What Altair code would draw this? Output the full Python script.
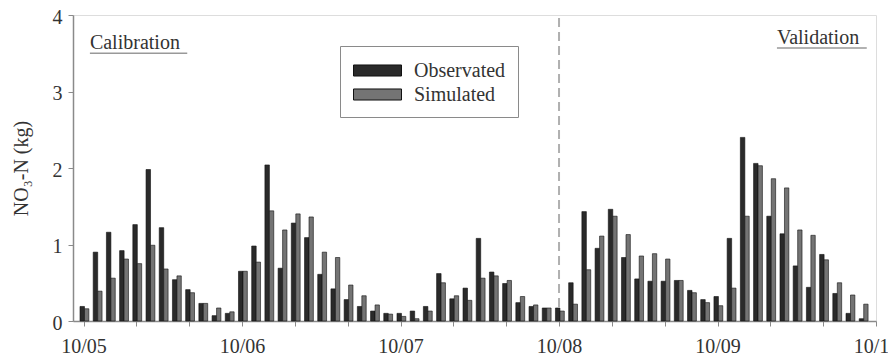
import json
import altair as alt
import pandas as pd

# ---- data -------------------------------------------------------------------
month_idx = list(range(60))  # 0 = Oct 2005 ... 59 = Sep 2010
observed = [0.19, 0.90, 1.16, 0.92, 1.26, 1.98, 1.22, 0.54, 0.41, 0.23, 0.07, 0.10,
            0.65, 0.98, 2.04, 0.69, 1.28, 1.09, 0.61, 0.42, 0.28, 0.19, 0.13, 0.10,
            0.10, 0.13, 0.19, 0.62, 0.29, 0.43, 1.08, 0.64, 0.49, 0.24, 0.19, 0.17,
            0.17, 0.50, 1.43, 0.95, 1.46, 0.83, 0.55, 0.52, 0.52, 0.53, 0.40, 0.28,
            0.32, 1.08, 2.40, 2.06, 1.37, 1.14, 0.72, 0.44, 0.87, 0.36, 0.10, 0.03]
simulated = [0.16, 0.39, 0.56, 0.81, 0.75, 0.99, 0.68, 0.59, 0.37, 0.23, 0.17, 0.12,
             0.65, 0.77, 1.44, 1.19, 1.40, 1.36, 0.90, 0.83, 0.47, 0.33, 0.21, 0.09,
             0.06, 0.03, 0.13, 0.50, 0.33, 0.27, 0.56, 0.59, 0.53, 0.32, 0.21, 0.17,
             0.13, 0.22, 0.67, 1.11, 1.37, 1.13, 0.85, 0.88, 0.81, 0.53, 0.37, 0.24,
             0.20, 0.43, 1.37, 2.03, 1.86, 1.74, 1.19, 1.12, 0.80, 0.50, 0.34, 0.22]
tick_labels = ["10/05", "4/06", "10/06", "4/07", "10/07", "4/08",
               "10/08", "4/09", "10/09", "4/10", "10/10"]
series_names = ["Observated", "Simulated"]
series_colors = ["#2a2a2a", "#747474"]

period_labels = ["Calibration", "Validation"]
period_x = [0.48, 52.5]
period_x_end = [7.85, 59.3]
period_y = [3.56, 3.62]
period_line_y = [3.50, 3.57]
split_month = [36]

# ---- tables --------------------------------------------------------------------
bars = pd.DataFrame({
    "m": month_idx * 2,
    "value": observed + simulated,
    "series": [series_names[0]] * 60 + [series_names[1]] * 60,
})
periods = pd.DataFrame({"label": period_labels, "x": period_x, "x2": period_x_end,
                        "y": period_y, "yl": period_line_y})
split = pd.DataFrame({"m": split_month})

FONT = "'Liberation Serif', 'Times New Roman', 'DejaVu Serif', serif"
GREY = "#8a8a8a"
TXT = "#333333"

xscale = alt.Scale(domain=[-0.8, 60], nice=False, zero=False)
yscale = alt.Scale(domain=[0, 4], nice=False)

label_expr = ("datum.value % 6 == 0 ? " + json.dumps(tick_labels).replace('"', "'")
              + "[datum.value / 6] : ''")

x_axis = alt.Axis(values=list(range(0, 61, 2)), labelExpr=label_expr, title=None,
                  grid=False, tickSize=5, tickColor=GREY, domainColor=GREY, domainWidth=1.5,
                  labelFont=FONT, labelFontSize=20, labelColor=TXT, labelPadding=10,
                  labelFlush=False, labelOverlap=False)
y_axis = alt.Axis(values=[0, 1, 2, 3, 4], format="d", title="NO₃-N (kg)", grid=False,
                  tickSize=5, tickColor=GREY, domainColor=GREY, domainWidth=1.5,
                  labelFont=FONT, labelFontSize=20, labelColor=TXT, labelPadding=6,
                  labelOffset=2,
                  titleFont=FONT, titleFontSize=20, titleFontWeight="normal",
                  titleColor=TXT, titlePadding=21)

bar_layer = alt.Chart(bars).transform_calculate(
    x0="datum.m + (datum.series == 'Observated' ? -0.27 : 0.07)",
    x1="datum.m + (datum.series == 'Observated' ? 0.07 : 0.40)",
).mark_bar(stroke="#111111", strokeWidth=0.6).encode(
    x=alt.X("x0:Q", scale=xscale, axis=x_axis),
    x2="x1:Q",
    y=alt.Y("value:Q", scale=yscale, axis=y_axis),
    y2=alt.datum(0),
    color=alt.Color("series:N", scale=alt.Scale(domain=series_names, range=series_colors),
                    legend=alt.Legend(
                        orient="none", legendX=267, legendY=31, title=None,
                        direction="vertical",
                        symbolType="M-2,-0.46H2V0.46H-2Z", symbolSize=576,
                        symbolStrokeColor="#111111", symbolStrokeWidth=1,
                        symbolOpacity=1, symbolOffset=13,
                        labelFont=FONT, labelFontSize=20, labelColor=TXT,
                        labelOffset=24, padding=12, rowPadding=1,
                        strokeColor=GREY, fillColor="white")),
)

split_layer = alt.Chart(split).mark_rule(color="#b0b0b0", strokeWidth=2,
                                         strokeDash=[9, 5]).encode(
    x=alt.X("m:Q", scale=xscale), y=alt.datum(0), y2=alt.datum(4))

text_layer = alt.Chart(periods).mark_text(font=FONT, fontSize=20, color=TXT,
                                          align="left", baseline="alphabetic").encode(
    x=alt.X("x:Q", scale=xscale), y=alt.Y("y:Q", scale=yscale), text="label:N")

underline_layer = alt.Chart(periods).mark_rule(color="#999999", strokeWidth=1.5).encode(
    x=alt.X("x:Q", scale=xscale), x2="x2:Q", y=alt.Y("yl:Q", scale=yscale))

chart = alt.layer(split_layer, bar_layer, text_layer, underline_layer).properties(
    width=803, height=306,
    autosize=alt.AutoSizeParams(type="none"),
    padding={"left": 65, "top": 7, "right": 12, "bottom": 41},
).configure_view(stroke=GREY, strokeWidth=1.5).configure(background="white")

chart.save("out.html", embed_options={"renderer": "svg", "actions": False})
